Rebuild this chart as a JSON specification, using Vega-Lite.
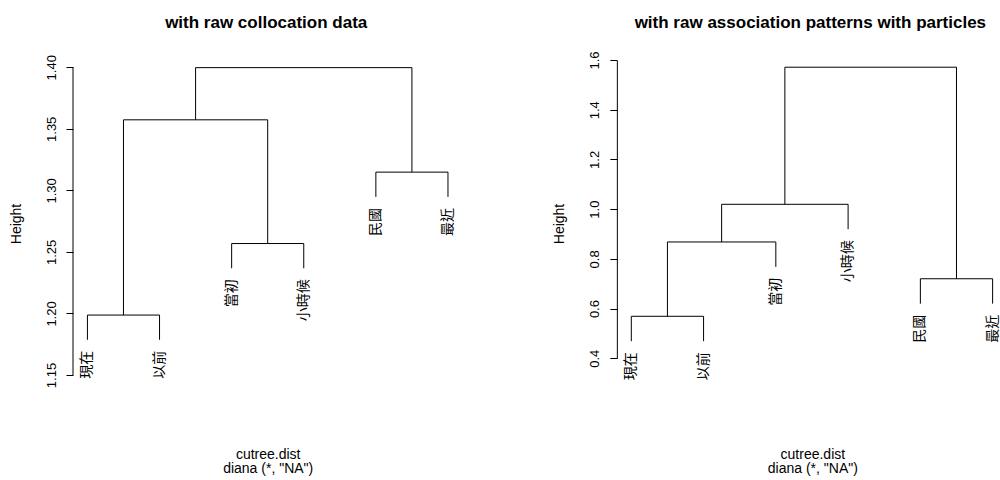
{
  "$schema": "https://vega.github.io/schema/vega-lite/v6.json",
  "usermeta": {"embedOptions": {"actions": false}},
  "padding": {"left": 9, "top": 13, "right": 0, "bottom": 0},
  "background": "white",
  "config": {
    "view": {"stroke": null},
    "font": "Liberation Sans",
    "axis": {"domainColor": "black", "tickColor": "black", "labelColor": "black", "titleColor": "black", "grid": false, "labelFont": "Liberation Sans", "titleFont": "Liberation Sans"}
  },
  "datasets": {
    "left_segments": [
      {"x": 1, "x2": 1, "y": 1.1786, "y2": 1.1987},
      {"x": 2, "x2": 2, "y": 1.1786, "y2": 1.1987},
      {"x": 1, "x2": 2, "y": 1.1987, "y2": 1.1987},
      {"x": 3, "x2": 3, "y": 1.2367, "y2": 1.2568},
      {"x": 4, "x2": 4, "y": 1.2367, "y2": 1.2568},
      {"x": 3, "x2": 4, "y": 1.2568, "y2": 1.2568},
      {"x": 1.5, "x2": 1.5, "y": 1.1987, "y2": 1.3573},
      {"x": 3.5, "x2": 3.5, "y": 1.2568, "y2": 1.3573},
      {"x": 1.5, "x2": 3.5, "y": 1.3573, "y2": 1.3573},
      {"x": 5, "x2": 5, "y": 1.2947, "y2": 1.3148},
      {"x": 6, "x2": 6, "y": 1.2947, "y2": 1.3148},
      {"x": 5, "x2": 6, "y": 1.3148, "y2": 1.3148},
      {"x": 2.5, "x2": 2.5, "y": 1.3573, "y2": 1.3997},
      {"x": 5.5, "x2": 5.5, "y": 1.3148, "y2": 1.3997},
      {"x": 2.5, "x2": 5.5, "y": 1.3997, "y2": 1.3997}
    ],
    "left_leaves": [
      {"label": "現在", "x": 1, "y": 1.1786},
      {"label": "以前", "x": 2, "y": 1.1786},
      {"label": "當初", "x": 3, "y": 1.2367},
      {"label": "小時候", "x": 4, "y": 1.2367},
      {"label": "民國", "x": 5, "y": 1.2947},
      {"label": "最近", "x": 6, "y": 1.2947}
    ],
    "right_segments": [
      {"x": 1, "x2": 1, "y": 0.4688, "y2": 0.569},
      {"x": 2, "x2": 2, "y": 0.4688, "y2": 0.569},
      {"x": 1, "x2": 2, "y": 0.569, "y2": 0.569},
      {"x": 1.5, "x2": 1.5, "y": 0.569, "y2": 0.868},
      {"x": 3, "x2": 3, "y": 0.7678, "y2": 0.868},
      {"x": 1.5, "x2": 3, "y": 0.868, "y2": 0.868},
      {"x": 2.25, "x2": 2.25, "y": 0.868, "y2": 1.0195},
      {"x": 4, "x2": 4, "y": 0.9193, "y2": 1.0195},
      {"x": 2.25, "x2": 4, "y": 1.0195, "y2": 1.0195},
      {"x": 5, "x2": 5, "y": 0.6198, "y2": 0.72},
      {"x": 6, "x2": 6, "y": 0.6198, "y2": 0.72},
      {"x": 5, "x2": 6, "y": 0.72, "y2": 0.72},
      {"x": 3.125, "x2": 3.125, "y": 1.0195, "y2": 1.571},
      {"x": 5.5, "x2": 5.5, "y": 0.72, "y2": 1.571},
      {"x": 3.125, "x2": 5.5, "y": 1.571, "y2": 1.571}
    ],
    "right_leaves": [
      {"label": "現在", "x": 1, "y": 0.4688},
      {"label": "以前", "x": 2, "y": 0.4688},
      {"label": "當初", "x": 3, "y": 0.7678},
      {"label": "小時候", "x": 4, "y": 0.9193},
      {"label": "民國", "x": 5, "y": 0.6198},
      {"label": "最近", "x": 6, "y": 0.6198}
    ]
  },
  "bounds": "flush",
  "spacing": 153.85,
  "hconcat": [
    {
      "width": 389.4,
      "height": 315,
      "title": {"text": "with raw collocation data", "font": "Liberation Sans", "fontSize": 17, "fontWeight": "bold", "color": "black", "frame": "group", "anchor": "middle", "baseline": "alphabetic", "offset": 9.8, "dx": -1.5},
      "layer": [
        {
          "data": {"name": "left_segments"},
          "mark": {"type": "rule", "color": "black", "strokeWidth": 1},
          "encoding": {
            "x": {"field": "x", "type": "quantitative", "scale": {"domain": [0.8, 6.2], "nice": false, "zero": false},
              "axis": {"title": ["cutree.dist", "diana (*, \"NA\")"], "labels": false, "ticks": false, "domain": false, "titleFontSize": 14, "titleFontWeight": "normal", "titleLineHeight": 14.5, "titleBaseline": "alphabetic", "titleAlign": "center", "titleX": 194.7, "titleY": 83}},
            "x2": {"field": "x2"},
            "y": {"field": "y", "type": "quantitative", "scale": {"domain": [1.15, 1.4059], "nice": false, "zero": false},
              "axis": {"title": "Height", "values": [1.15, 1.2, 1.25, 1.3, 1.35, 1.4], "format": ".2f", "domain": false, "tickSize": 7, "labelPadding": 11, "labelFontSize": 13, "labelAngle": 270, "labelAlign": "center", "labelBaseline": "alphabetic", "titleFontSize": 14, "titleFontWeight": "normal", "titleAngle": 270, "titleAlign": "center", "titleBaseline": "alphabetic", "titleX": -53, "titleY": 163.5}},
            "y2": {"field": "y2"}
          }
        },
        {
          "data": {"values": [{"lo": 1.15, "hi": 1.4}]},
          "mark": {"type": "rule", "color": "black", "strokeWidth": 1},
          "encoding": {
            "x": {"datum": 0.8, "type": "quantitative"},
            "y": {"field": "lo", "type": "quantitative"},
            "y2": {"field": "hi"}
          }
        },
        {
          "data": {"name": "left_leaves"},
          "mark": {"type": "text", "angle": 270, "align": "right", "baseline": "middle", "dx": -11, "font": "Noto Sans CJK TC", "fontSize": 14, "color": "black"},
          "encoding": {
            "x": {"field": "x", "type": "quantitative"},
            "y": {"field": "y", "type": "quantitative"},
            "text": {"field": "label", "type": "nominal"}
          }
        }
      ]
    },
    {
      "width": 383.0,
      "height": 298.3,
      "title": {"text": "with raw association patterns with particles", "font": "Liberation Sans", "fontSize": 17, "fontWeight": "bold", "color": "black", "frame": "group", "anchor": "middle", "baseline": "alphabetic", "offset": 5.6, "dx": 2},
      "layer": [
        {
          "data": {"name": "right_segments"},
          "mark": {"type": "rule", "color": "black", "strokeWidth": 1},
          "encoding": {
            "x": {"field": "x", "type": "quantitative", "scale": {"domain": [0.8, 6.1], "nice": false, "zero": false},
              "axis": {"title": ["cutree.dist", "diana (*, \"NA\")"], "labels": false, "ticks": false, "domain": false, "titleFontSize": 14, "titleFontWeight": "normal", "titleLineHeight": 14.5, "titleBaseline": "alphabetic", "titleAlign": "center", "titleX": 195.5, "titleY": 99.7}},
            "x2": {"field": "x2"},
            "y": {"field": "y", "type": "quantitative", "scale": {"domain": [0.4, 1.6], "nice": false, "zero": false},
              "axis": {"title": "Height", "values": [0.4, 0.6, 0.8, 1.0, 1.2, 1.4, 1.6], "format": ".1f", "domain": true, "tickSize": 7, "labelPadding": 11, "labelFontSize": 13, "labelAngle": 270, "labelAlign": "center", "labelBaseline": "alphabetic", "titleFontSize": 14, "titleFontWeight": "normal", "titleAngle": 270, "titleAlign": "center", "titleBaseline": "alphabetic", "titleX": -53, "titleY": 163.5}},
            "y2": {"field": "y2"}
          }
        },
        {
          "data": {"name": "right_leaves"},
          "mark": {"type": "text", "angle": 270, "align": "right", "baseline": "middle", "dx": -11, "font": "Noto Sans CJK TC", "fontSize": 14, "color": "black"},
          "encoding": {
            "x": {"field": "x", "type": "quantitative"},
            "y": {"field": "y", "type": "quantitative"},
            "text": {"field": "label", "type": "nominal"}
          }
        }
      ]
    }
  ]
}
